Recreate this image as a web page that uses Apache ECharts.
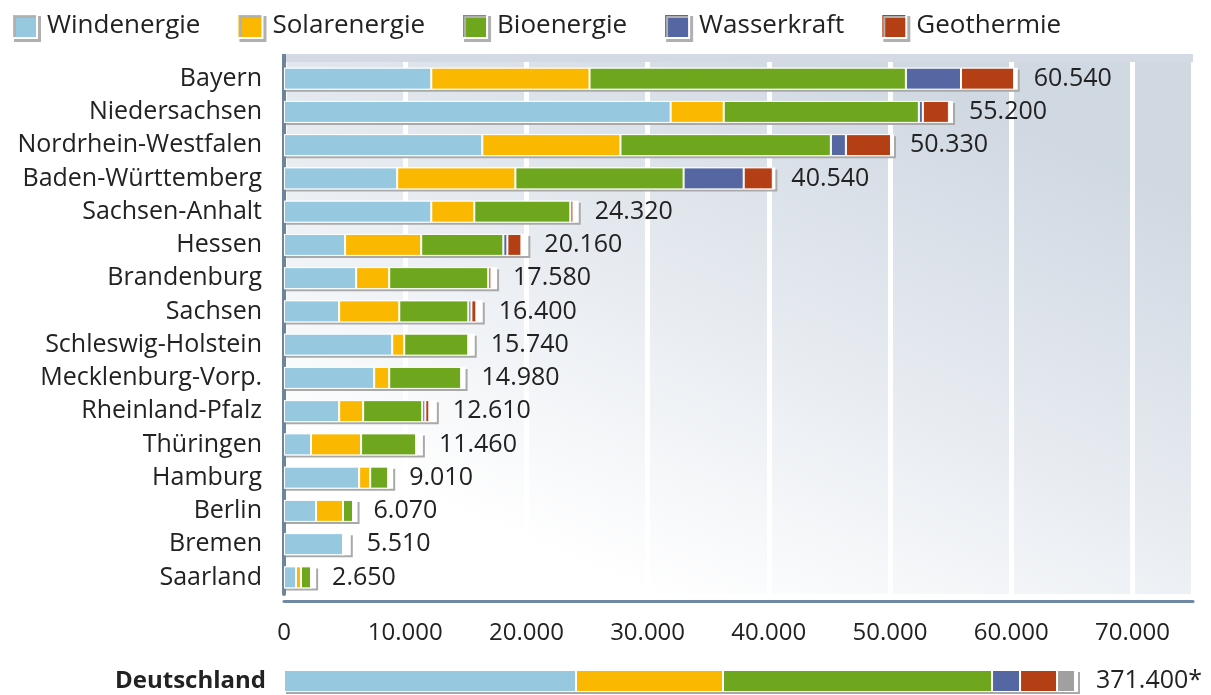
<!DOCTYPE html>
<html>
<head>
<meta charset="utf-8">
<script src="https://cdn.jsdelivr.net/npm/echarts@6/dist/echarts.min.js"></script>
<style>
  html, body { margin: 0; padding: 0; background: #fff; }
  #chart { width: 1211px; height: 695px; }
</style>
</head>
<body>
<div id="chart"></div>
<script>
// Bundesländer, von oben nach unten
var regions = ['Bayern', 'Niedersachsen', 'Nordrhein-Westfalen', 'Baden-Württemberg', 'Sachsen-Anhalt',
  'Hessen', 'Brandenburg', 'Sachsen', 'Schleswig-Holstein', 'Mecklenburg-Vorp.', 'Rheinland-Pfalz',
  'Thüringen', 'Hamburg', 'Berlin', 'Bremen', 'Saarland'];
var wind   = [12150, 31900, 16360, 9340, 12150, 5040, 5950, 4550, 8930, 7440, 4550, 2230, 6200, 2640, 4880, 990];
var solar  = [13060, 4380, 11400, 9750, 3550, 6280, 2730, 4960, 990, 1240, 1980, 4130, 910, 2230, 0, 410];
var bio    = [26100, 16100, 17360, 13880, 7930, 6780, 8180, 5700, 5290, 5950, 4880, 4550, 1490, 830, 0, 830];
var wasser = [4550, 330, 1240, 4960, 0, 330, 0, 250, 0, 0, 250, 0, 0, 0, 0, 0];
var geo    = [4380, 2150, 3720, 2400, 250, 1160, 250, 410, 100, 0, 330, 100, 0, 0, 0, 0];
var totals = [60540, 55200, 50330, 40540, 24320, 20160, 17580, 16400, 15740, 14980, 12610, 11460, 9010, 6070, 5510, 2650];

// Deutschland gesamt
var deCategory = ['Deutschland'];
var deWind = [136600];
var deSolar = [68770];
var deBio = [125830];
var deWasser = [13100];
var deGeo = [17310];
var deSonstige = [8420];
var deTotal = [371400];

var xTicks = [0, 10000, 20000, 30000, 40000, 50000, 60000, 70000];

var names = ['Windenergie', 'Solarenergie', 'Bioenergie', 'Wasserkraft', 'Geothermie'];
var colors = ['#96c8e0', '#fab800', '#6ea61d', '#5567a3', '#b43f14'];
var FONT = '"Open Sans", sans-serif';

function fmt(v) {
  return String(v).replace(/\B(?=(\d{3})+(?!\d))/g, '.');
}

var myChart = echarts.init(document.getElementById('chart'));

var segStyle = function (c) {
  return { color: c, borderColor: '#fff', borderWidth: 1 };
};
var totalStyle = {
  color: '#fff',
  shadowColor: '#a9a9a9',
  shadowBlur: 0,
  shadowOffsetX: 2,
  shadowOffsetY: 2
};

var series = [];
// Hintergrundbalken mit Schatten + Summenlabel
series.push({
  name: 'Gesamt', type: 'bar', data: totals, barWidth: 22, barGap: '-100%',
  itemStyle: totalStyle, silent: true,
  label: {
    show: true, position: 'right', distance: 16, color: '#222',
    fontFamily: FONT, fontSize: 25,
    formatter: function (p) { return fmt(p.value); }
  }
});
var parts = [wind, solar, bio, wasser, geo];
for (var i = 0; i < parts.length; i++) {
  series.push({
    name: names[i], type: 'bar', stack: 'land', data: parts[i], barWidth: 22,
    itemStyle: segStyle(colors[i])
  });
}
// Deutschland
series.push({
  name: 'Gesamt', type: 'bar', data: deTotal, barWidth: 22, barGap: '-100%',
  xAxisIndex: 1, yAxisIndex: 1, itemStyle: totalStyle, silent: true,
  label: {
    show: true, position: 'right', distance: 18, color: '#222',
    fontFamily: FONT, fontSize: 25,
    formatter: function (p) { return fmt(p.value) + '*'; }
  }
});
var deParts = [deWind, deSolar, deBio, deWasser, deGeo];
for (var j = 0; j < deParts.length; j++) {
  series.push({
    name: names[j], type: 'bar', stack: 'de', data: deParts[j], barWidth: 22,
    xAxisIndex: 1, yAxisIndex: 1, itemStyle: segStyle(colors[j])
  });
}
series.push({
  name: 'Sonstige', type: 'bar', stack: 'de', data: deSonstige, barWidth: 22,
  xAxisIndex: 1, yAxisIndex: 1, itemStyle: segStyle('#a0a0a0')
});

myChart.setOption({
  animation: false,
  textStyle: { fontFamily: FONT },
  legend: {
    data: names,
    left: 6, top: 8,
    icon: 'rect',
    itemWidth: 25, itemHeight: 24, itemGap: 36,
    itemStyle: {
      shadowColor: '#b0b0b0', shadowBlur: 0,
      shadowOffsetX: 3, shadowOffsetY: 3
    },
    textStyle: { fontSize: 26, color: '#222', fontFamily: FONT, padding: [0, 0, 0, 5] }
  },
  graphic: [{
    type: 'rect', z: -1,
    shape: { x: 284, y: 54, width: 909, height: 9 },
    style: { fill: '#d3dae3' }
  }, {
    type: 'line', z: 5,
    shape: { x1: 284, y1: 54, x2: 284, y2: 63 },
    style: { stroke: '#6e849a', lineWidth: 4 }
  }],
  grid: [{
    left: 284, right: 18, top: 62, height: 532,
    show: true, borderWidth: 0,
    backgroundColor: {
      type: 'linear', x: 0.65, y: 0, x2: 0.4, y2: 1,
      colorStops: [
        { offset: 0, color: '#d0d8e2' },
        { offset: 0.55, color: '#e9edf2' },
        { offset: 1, color: '#ffffff' }
      ]
    }
  }, {
    left: 284, right: 18, top: 670, height: 22
  }],
  xAxis: [{
    type: 'value', min: xTicks[0], max: 75000, interval: 10000,
    offset: 7,
    axisLine: { show: true, lineStyle: { color: '#6f89a2', width: 3 } },
    axisTick: { show: false },
    splitLine: { show: true, lineStyle: { color: '#ffffff', width: 5 } },
    axisLabel: {
      showMaxLabel: false, margin: 20,
      color: '#222', fontSize: 24, fontFamily: FONT,
      formatter: function (v) { return fmt(v); }
    }
  }, {
    type: 'value', gridIndex: 1, min: 0, max: 425200, show: false
  }],
  yAxis: [{
    type: 'category', data: regions, inverse: true,
    axisLine: { show: true, lineStyle: { color: '#6e849a', width: 4 } },
    axisTick: { show: false },
    axisLabel: { margin: 22, color: '#222', fontSize: 25, fontFamily: FONT }
  }, {
    type: 'category', data: deCategory, gridIndex: 1,
    axisLine: { show: false }, axisTick: { show: false },
    axisLabel: { margin: 18, color: '#222', fontSize: 24, fontWeight: 'bold', fontFamily: FONT }
  }],
  series: series
});
</script>
</body>
</html>
